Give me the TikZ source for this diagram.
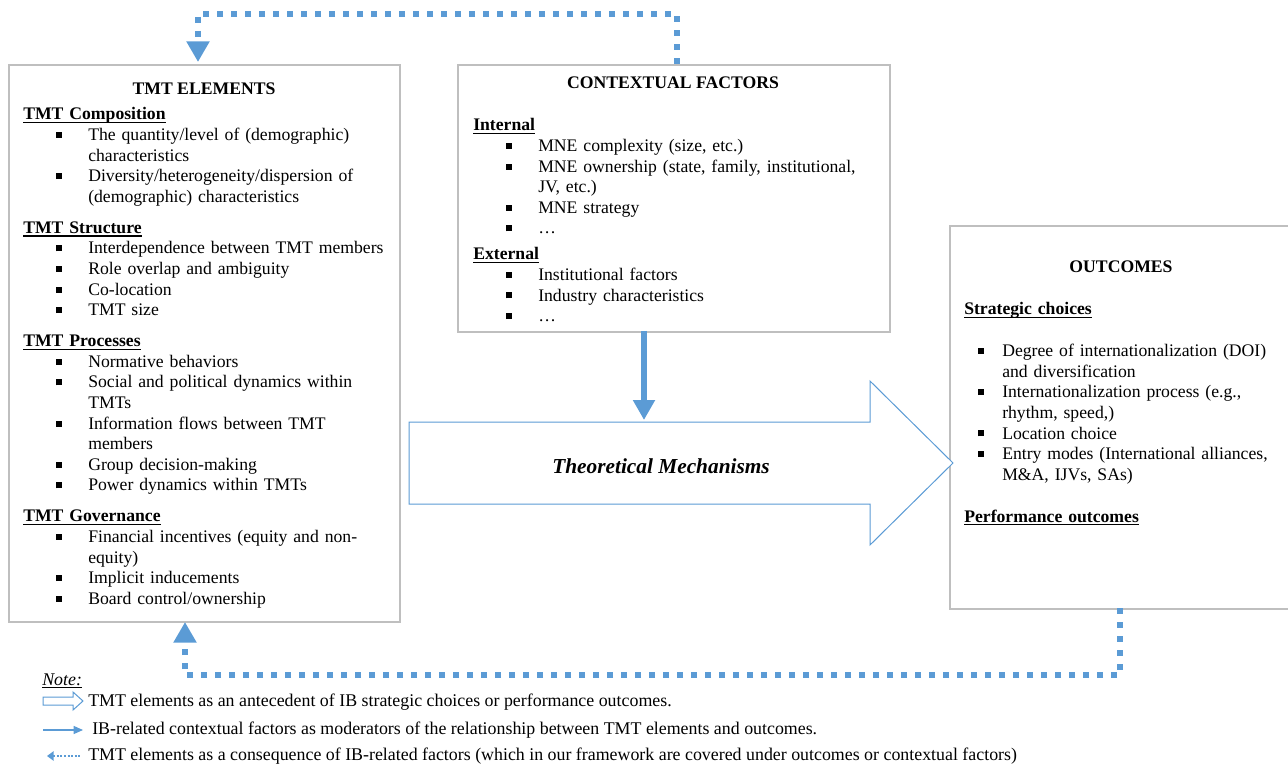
\documentclass[tikz,border=0pt]{standalone}
\usepackage{fontspec}
\setmainfont{Liberation Serif}
\usetikzlibrary{arrows.meta}

\definecolor{boxgray}{HTML}{BFBFBF}
\definecolor{tmtblue}{HTML}{5B9BD5}

% underlined headings and bullet lines
\newsavebox\hdbox
\newcommand{\hd}[1]{\sbox\hdbox{\textbf{#1}}\usebox\hdbox\llap{\rule[-2.4pt]{\wd\hdbox}{1pt}}}
\newcommand{\notehd}[1]{\sbox\hdbox{\textit{#1}}\usebox\hdbox\llap{\rule[-2pt]{\wd\hdbox}{0.6pt}}}
\newcommand{\bul}[3]{\hspace*{#1}\makebox[#2][l]{\rule[2pt]{4.5pt}{4.5pt}}#3}
\newcommand{\tmtitem}[1]{\bul{24.75pt}{24pt}{#1}}
\newcommand{\tmtcont}[1]{\hspace*{48.75pt}#1}
\newcommand{\outitem}[1]{\bul{10.5pt}{18pt}{#1}}
\newcommand{\outcont}[1]{\hspace*{28.5pt}#1}

\begin{document}
\begin{tikzpicture}
		[x=0.75pt,y=-0.75pt,%
		  box/.style={draw=boxgray,line width=1.5pt,inner sep=0pt,anchor=north west},
		  boxtitle/.style={font=\bfseries,anchor=base,inner sep=0pt},
		  boxbody/.style={anchor=base west,inner sep=0pt,align=left,text width=#1},
		  dotarrow/.style={draw=tmtblue,line width=4.5pt,dash pattern=on 4.5pt off 6pt,
		    -{Triangle[width=16.5pt,length=15.5pt]}},
		  modarrow/.style={draw=tmtblue,line width=4.5pt,-{Triangle[width=15.75pt,length=15pt]}},
		  mechshape/.style={draw=tmtblue,line width=0.75pt,fill=white},
		  legtext/.style={anchor=base west,inner sep=0pt,font=\fontsize{13.4pt}{15.45pt}\selectfont}]
		\fontsize{13.25pt}{15.45pt}\selectfont
		\useasboundingbox (0,0) rectangle (1288,766);

		% the three boxes
		\node[box,minimum width=293.25pt,minimum height=417.75pt] (tmt) at (8,64) {};
		\node[box,minimum width=324pt,minimum height=200.25pt] (ctx) at (457,64) {};
		\node[box,minimum width=257.25pt,minimum height=287.25pt] (out) at (949,225) {};

		\node[boxtitle] (tmttitle) at (204,95) {TMT ELEMENTS};
		\node[boxbody=300pt] (tmtlist) at (23,120) {%
		  \hd{TMT Composition}\\
		  \tmtitem{The quantity/level of (demographic)}\\
		  \tmtcont{characteristics}\\
		  \tmtitem{Diversity/heterogeneity/dispersion of}\\
		  \tmtcont{(demographic) characteristics}\\[7.8pt]
		  \hd{TMT Structure}\\
		  \tmtitem{Interdependence between TMT members}\\
		  \tmtitem{Role overlap and ambiguity}\\
		  \tmtitem{Co-location}\\
		  \tmtitem{TMT size}\\[7.8pt]
		  \hd{TMT Processes}\\
		  \tmtitem{Normative behaviors}\\
		  \tmtitem{Social and political dynamics within}\\
		  \tmtcont{TMTs}\\
		  \tmtitem{Information flows between TMT}\\
		  \tmtcont{members}\\
		  \tmtitem{Group decision-making}\\
		  \tmtitem{Power dynamics within TMTs}\\[7.8pt]
		  \hd{TMT Governance}\\
		  \tmtitem{Financial incentives (equity and non-}\\
		  \tmtcont{equity)}\\
		  \tmtitem{Implicit inducements}\\
		  \tmtitem{Board control/ownership}};

		\node[boxtitle] (ctxtitle) at (673,89) {CONTEXTUAL FACTORS};
		\node[boxbody=315pt] (ctxlist) at (473,131) {%
		  \hd{Internal}\\
		  \tmtitem{MNE complexity (size, etc.)}\\
		  \tmtitem{MNE ownership (state, family, institutional,}\\
		  \tmtcont{JV, etc.)}\\
		  \tmtitem{MNE strategy}\\
		  \tmtitem{…}\\[4pt]
		  \hd{External}\\
		  \tmtitem{Institutional factors}\\
		  \tmtitem{Industry characteristics}\\
		  \tmtitem{…}};

		\node[boxtitle] (outtitle) at (1121,273) {OUTCOMES};
		\node[boxbody=255pt] (outlist) at (964,315) {%
		  \hd{Strategic choices}\\[15.8pt]
		  \outitem{Degree of internationalization (DOI)}\\
		  \outcont{and diversification}\\
		  \outitem{Internationalization process (e.g.,}\\
		  \outcont{rhythm, speed,)}\\
		  \outitem{Location choice}\\
		  \outitem{Entry modes (International alliances,}\\
		  \outcont{M\&A, IJVs, SAs)}\\[16pt]
		  \hd{Performance outcomes}};

		% theoretical mechanisms arrow
		\draw[mechshape] (409,422) -- (870,422) -- (870,381) -- (953,463)
		  -- (870,545) -- (870,504) -- (409,504) -- cycle;
		\node[font=\fontsize{16pt}{18pt}\selectfont\bfseries\itshape,anchor=base,inner sep=0pt]
		  (mech) at (661,473) {Theoretical Mechanisms};

		% connectors
		\coordinate (ctxdown) at (644,331);
		\coordinate (mechtop) at (644,420);
		\draw[modarrow] (ctxdown) -- (mechtop);

		\coordinate (ctxup) at (677,64);
		\coordinate (tmtin) at (198,62);
		\draw[dotarrow] (ctxup) -- (677,14) -| (tmtin);

		\coordinate (outdown) at (1120,608);
		\coordinate (tmtback) at (185,622);
		\draw[dotarrow] (outdown) -- (1120,675) -| (tmtback);

		% note
		\node[legtext] (note) at (42,685) {\notehd{Note:}};
		\draw[mechshape] (43,697) -- (73,697) -- (73,692) -- (83,701) -- (73,710)
		  -- (73,705) -- (43,705) -- cycle;
		\node[legtext] (leg1) at (88,706)
		  {TMT elements as an antecedent of IB strategic choices or performance outcomes.};
		\draw[draw=tmtblue,line width=0.9pt,-{Triangle[width=6pt,length=7pt]}] (43,730) -- (83,730);
		\node[legtext] (leg2) at (92,734)
		  {IB-related contextual factors as moderators of the relationship between TMT elements and outcomes.};
		\draw[draw=tmtblue,line width=1.5pt,dash pattern=on 1.5pt off 1.2pt,
		  {Triangle[width=7pt,length=5pt]}-] (47,756) -- (81,756);
		\node[legtext] (leg3) at (88,760)
		  {TMT elements as a consequence of IB-related factors (which in our framework are covered under outcomes or contextual factors)};
\end{tikzpicture}
\end{document}
